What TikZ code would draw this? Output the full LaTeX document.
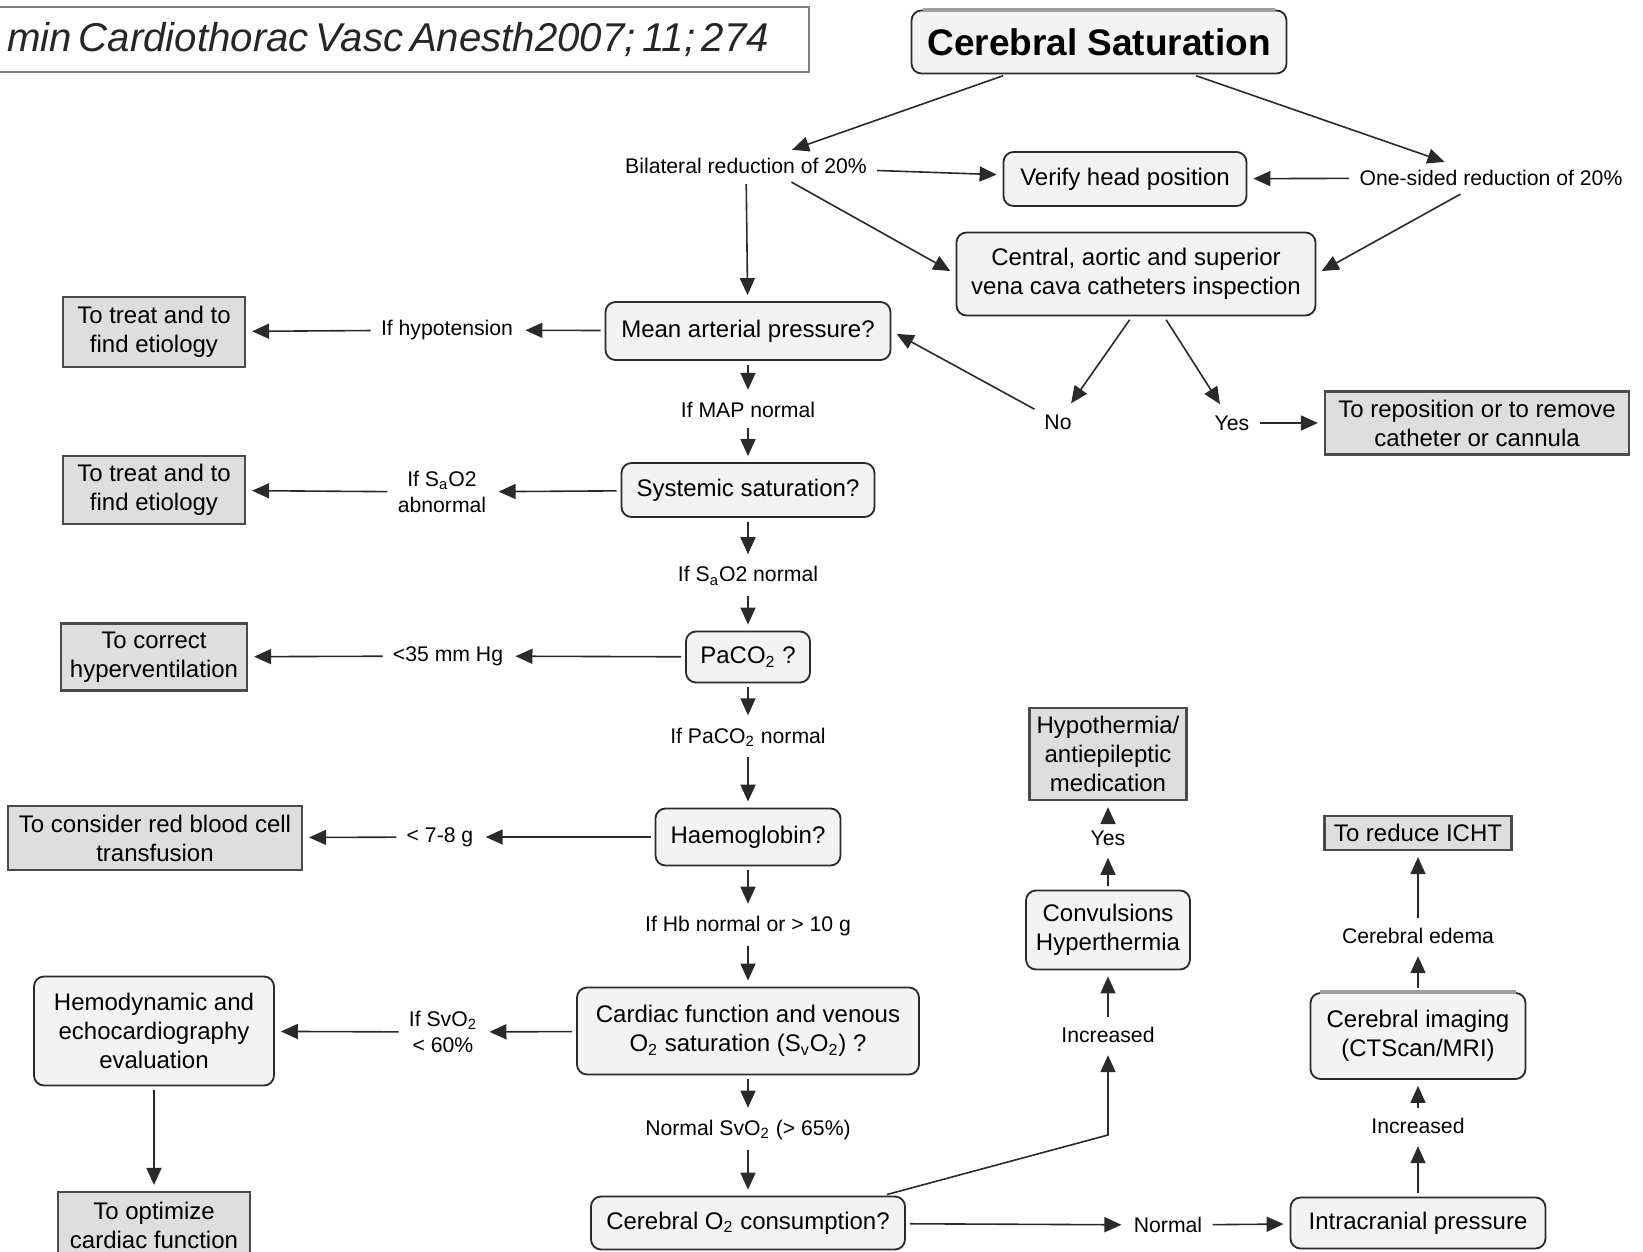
\documentclass[tikz,border=0pt]{standalone}
\usepackage{fontspec}
\setmainfont{Liberation Sans}
\newfontfamily\citefont{Liberation Sans}
\usetikzlibrary{arrows.meta}

\definecolor{boxfill}{HTML}{F3F3F3}
\definecolor{actfill}{HTML}{DEDEDE}
\definecolor{linecol}{HTML}{2A2A2A}

\def\boxfont{\fontsize{12}{14.5}\selectfont}
\def\labfont{\fontsize{10.6}{13}\selectfont}
\def\xm{748}   % main column
\def\xl{154}   % left column
\def\xc{1108}  % middle column
\def\xr{1418}  % right column

\begin{document}
\begin{tikzpicture}[x=0.5pt,y=-0.5pt,
  qbox/.style={draw=linecol, line width=0.9pt, fill=boxfill, rounded corners=5pt,
    align=center, font=\boxfont, inner sep=2pt},
  abox/.style={draw=linecol!85, line width=1.1pt, fill=actfill, align=center,
    font=\boxfont, inner sep=2pt},
  lab/.style={align=center, font=\labfont, inner sep=3pt},
  arr/.style={draw=linecol, line width=0.8pt, -{Triangle[length=8.5pt,width=7.5pt]},
    shorten >=3pt, shorten <=2pt},
  topedge/.style={draw=gray!75, line width=2pt}]
 \useasboundingbox (0,0) rectangle (1643,1252);

 % reference
 \node[draw=gray, line width=0.8pt, anchor=north east, minimum height=32.5pt,
   text width=420pt, align=right, inner xsep=20pt, text=black!85]
   (cite) at (810,6) {\citefont\itshape\fontsize{20.1}{23}\selectfont min Cardiothorac Vasc Anesth2007; 11; 274};

 % top part
 \node[qbox, minimum width=187.5pt, minimum height=31.5pt,
   font=\fontsize{18.5}{22}\selectfont\bfseries] (title) at (1099,42) {Cerebral Saturation};
 \draw[topedge] ([xshift=6pt]title.north west) -- ([xshift=-6pt]title.north east);

 \node[lab] (bil) at (746,166) {Bilateral reduction of 20\%};
 \node[lab] (one) at (1491,178) {One-sided reduction of 20\%};
 \node[qbox, minimum width=121.5pt, minimum height=27pt] (verify) at (1125,179) {Verify head position};
 \node[qbox, minimum width=179.5pt, minimum height=41.5pt] (cent) at (1136,274)
   {Central, aortic and superior\\vena cava catheters inspection};
 \node[lab] (no) at (1058,422) {No};
 \node[lab] (yes) at (1232,423) {Yes};
 \node[abox, minimum width=152pt, minimum height=31.5pt] (repos) at (1477,423)
   {To reposition or to remove\\catheter or cannula};

 \draw[arr] (title) -- (bil);
 \draw[arr] (title) -- (one);
 \draw[arr] (bil) -- (verify);
 \draw[arr] (one) -- (verify);
 \draw[arr] ([xshift=21pt]bil.south) -- (cent.west);
 \draw[arr] ([xshift=-13.5pt]one.south) -- (cent.east);
 \draw[arr] ([xshift=-2pt]cent.south) -- (no);
 \draw[arr] ([xshift=14pt]cent.south) -- (yes);
 \draw[arr] (yes) -- (repos);

 % main column
 \node[qbox, minimum width=142.5pt, minimum height=29pt] (map) at (\xm,331) {Mean arterial pressure?};
 \node[lab] (mapn) at (\xm,410) {If MAP normal};
 \node[qbox, minimum width=126.5pt, minimum height=27pt] (sys) at (\xm,490) {Systemic saturation?};
 \node[lab] (saon) at (\xm,576) {If S\textsubscript{a}O2 normal};
 \node[qbox, minimum width=62pt, minimum height=25.5pt] (paco) at (\xm,657) {PaCO\textsubscript{2} ?};
 \node[lab] (pacon) at (\xm,737) {If PaCO\textsubscript{2} normal};
 \node[qbox, minimum width=92.5pt, minimum height=28.5pt] (haemo) at (\xm,837) {Haemoglobin?};
 \node[lab] (hbn) at (\xm,926) {If Hb normal or > 10 g};
 \node[qbox, minimum width=171pt, minimum height=43.5pt] (cardiac) at (\xm,1031)
   {Cardiac function and venous\\O\textsubscript{2} saturation (S\textsubscript{v}O\textsubscript{2}) ?};
 \node[lab] (svon) at (\xm,1130) {Normal SvO\textsubscript{2} (> 65\%)};
 \node[qbox, minimum width=157pt, minimum height=26.5pt] (cero) at (\xm,1223) {Cerebral O\textsubscript{2} consumption?};

 \draw[arr] (bil) -- (map);
 \draw[arr] (no) -- (map.east);
 \draw[arr] (map) -- (mapn);
 \draw[arr] (mapn) -- (sys);
 \draw[arr] (sys) -- (saon);
 \draw[arr] (saon) -- (paco);
 \draw[arr] (paco) -- (pacon);
 \draw[arr] (pacon) -- (haemo);
 \draw[arr] (haemo) -- (hbn);
 \draw[arr] (hbn) -- (cardiac);
 \draw[arr] (cardiac) -- (svon);
 \draw[arr] (svon) -- (cero);

 % left column
 \node[lab] (hypo) at (447,330) {If hypotension};
 \node[abox, minimum width=91pt, minimum height=35pt] (treatA) at (\xl,332) {To treat and to\\find etiology};
 \node[lab] (saoab) at (442,492) {If S\textsubscript{a}O2\\abnormal};
 \node[abox, minimum width=91pt, minimum height=34pt] (treatB) at (\xl,490) {To treat and to\\find etiology};
 \node[lab] (lt35) at (448,656) {<35 mm Hg};
 \node[abox, minimum width=93pt, minimum height=33.5pt] (correct) at (\xl,657) {To correct\\hyperventilation};
 \node[lab] (lt78) at (440,837) {< 7-8 g};
 \node[abox, minimum width=147pt, minimum height=32pt] (rbc) at (155,838) {To consider red blood cell\\transfusion};
 \node[lab] (svo60) at (443,1032) {If SvO\textsubscript{2}\\< 60\%};
 \node[qbox, minimum width=120pt, minimum height=54.5pt] (hemo) at (\xl,1031)
   {Hemodynamic and\\echocardiography\\evaluation};
 \node[abox, minimum width=96pt, minimum height=33pt] (optim) at (\xl,1225) {To optimize\\cardiac function};

 \draw[arr] (map) -- (hypo);
 \draw[arr] (hypo) -- (treatA);
 \draw[arr] (sys) -- (saoab);
 \draw[arr] (saoab) -- (treatB);
 \draw[arr] (paco) -- (lt35);
 \draw[arr] (lt35) -- (correct);
 \draw[arr] (haemo) -- (lt78);
 \draw[arr] (lt78) -- (rbc);
 \draw[arr] (cardiac) -- (svo60);
 \draw[arr] (svo60) -- (hemo);
 \draw[arr] (hemo) -- (optim);

 % bottom right
 \node[lab] (normal) at (1168,1225) {Normal};
 \node[qbox, minimum width=127.5pt, minimum height=25.5pt] (icp) at (\xr,1223) {Intracranial pressure};
 \node[lab] (incR) at (\xr,1126) {Increased};
 \node[qbox, minimum width=107.5pt, minimum height=43pt] (imag) at (\xr,1036) {Cerebral imaging\\(CTScan/MRI)};
 \draw[topedge] ([xshift=5pt]imag.north west) -- ([xshift=-5pt]imag.north east);
 \node[lab] (edema) at (\xr,936) {Cerebral edema};
 \node[abox, minimum width=93.5pt, minimum height=17pt] (icht) at (\xr,833) {To reduce ICHT};

 \node[lab] (incM) at (\xc,1035) {Increased};
 \node[qbox, minimum width=82pt, minimum height=39.5pt] (conv) at (\xc,930) {Convulsions\\Hyperthermia};
 \node[lab] (yesM) at (\xc,838) {Yes};
 \node[abox, minimum width=78.5pt, minimum height=46pt] (hypoth) at (\xc,754) {Hypothermia/\\antiepileptic\\medication};
 \coordinate (kink) at (\xc,1135);

 \draw[arr] (cero) -- (normal);
 \draw[arr] (normal) -- (icp);
 \draw[arr] (icp) -- (incR);
 \draw[arr] (incR) -- (imag);
 \draw[arr] (imag) -- (edema);
 \draw[arr] (edema) -- (icht);
 \draw[arr] ([xshift=-11.5pt]cero.north east) -- (kink) -- (incM);
 \draw[arr] (incM) -- (conv);
 \draw[arr] (conv) -- (yesM);
 \draw[arr] (yesM) -- (hypoth);
\end{tikzpicture}
\end{document}
